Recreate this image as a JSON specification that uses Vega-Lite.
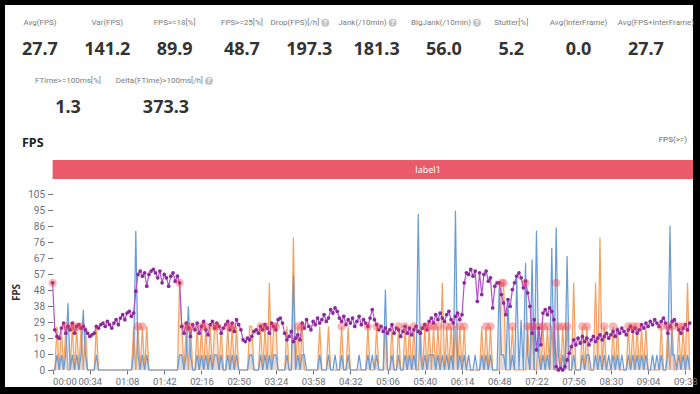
{
"$schema":"https://vega.github.io/schema/vega-lite/v6.json",
"background":"#000000",
"padding":{"left":5,"top":5,"right":7,"bottom":7},
"spacing":0,
"config":{"view":{"fill":"#ffffff","stroke":null},"font":"Noto Sans"},
"datasets":{
"stats":[
{"row":"r1","col":0,"label":"Avg(FPS)","value":"27.7","help":false},
{"row":"r1","col":1,"label":"Var(FPS)","value":"141.2","help":false},
{"row":"r1","col":2,"label":"FPS>=18[%]","value":"89.9","help":false},
{"row":"r1","col":3,"label":"FPS>=25[%]","value":"48.7","help":false},
{"row":"r1","col":4,"label":"Drop(FPS)[/h]","value":"197.3","help":true},
{"row":"r1","col":5,"label":"Jank(/10min)","value":"181.3","help":true},
{"row":"r1","col":6,"label":"BigJank(/10min)","value":"56.0","help":true},
{"row":"r1","col":7,"label":"Stutter[%]","value":"5.2","help":false},
{"row":"r1","col":8,"label":"Avg(InterFrame)","value":"0.0","help":false},
{"row":"r1","col":9,"label":"Avg(FPS+InterFrame)","value":"27.7","help":false},
{"row":"r2","col":0,"label":"FTime>=100ms[%]","value":"1.3","help":false},
{"row":"r2","col":1,"label":"Delta(FTime)>100ms[/h]","value":"373.3","help":true}
],
"header":[{"row":"hdr","item":"title","text":"FPS"},{"row":"hdr","item":"filter","text":"FPS(>=)"}],
"labels":[{"label":"label1","start":0,"end":686}],
"jank":[
{"t":0,"v":52},{"t":12,"v":26},{"t":18,"v":26},{"t":22,"v":26},{"t":26,"v":26},{"t":78,"v":26},{"t":82,"v":26},{"t":116,"v":52},{"t":122,"v":26},{"t":126,"v":26},{"t":136,"v":26},{"t":140,"v":26},{"t":148,"v":26},{"t":150,"v":26},{"t":160,"v":26},{"t":164,"v":26},{"t":190,"v":26},{"t":194,"v":26},{"t":202,"v":26},{"t":204,"v":26},{"t":224,"v":26},{"t":228,"v":26},{"t":264,"v":26},{"t":288,"v":26},{"t":296,"v":26},{"t":316,"v":26},{"t":322,"v":26},{"t":330,"v":26},{"t":340,"v":26},{"t":344,"v":26},{"t":348,"v":26},{"t":352,"v":26},{"t":360,"v":26},{"t":364,"v":26},{"t":372,"v":26},{"t":376,"v":26},{"t":396,"v":26},{"t":400,"v":26},{"t":410,"v":52},{"t":412,"v":52},{"t":420,"v":26},{"t":432,"v":52},{"t":434,"v":26},{"t":438,"v":26},{"t":444,"v":26},{"t":448,"v":26},{"t":452,"v":26},{"t":460,"v":52},{"t":462,"v":26},{"t":466,"v":26},{"t":470,"v":26},{"t":484,"v":26},{"t":488,"v":26},{"t":504,"v":26},{"t":512,"v":26},{"t":526,"v":26},{"t":530,"v":26},{"t":534,"v":26},{"t":556,"v":26},{"t":562,"v":26},{"t":566,"v":26},{"t":572,"v":26},{"t":576,"v":26}
],
"series":[
{"t":0,"f":52,"o":0,"b":0},{"t":2,"f":24,"o":0,"b":0},{"t":4,"f":20,"o":26,"b":9},{"t":6,"f":19,"o":0,"b":0},{"t":8,"f":25,"o":26,"b":9},{"t":10,"f":28,"o":0,"b":0},{"t":12,"f":22,"o":26,"b":9},{"t":14,"f":26,"o":0,"b":40},{"t":16,"f":24,"o":0,"b":0},{"t":18,"f":28,"o":26,"b":9},
{"t":20,"f":22,"o":0,"b":0},{"t":22,"f":26,"o":26,"b":9},{"t":24,"f":27,"o":0,"b":0},{"t":26,"f":25,"o":26,"b":9},{"t":28,"f":26,"o":0,"b":36},{"t":30,"f":24,"o":26,"b":9},{"t":32,"f":22,"o":0,"b":0},{"t":34,"f":20,"o":0,"b":0},{"t":36,"f":21,"o":0,"b":0},{"t":38,"f":22,"o":0,"b":0},
{"t":40,"f":26,"o":26,"b":9},{"t":42,"f":25,"o":0,"b":0},{"t":44,"f":27,"o":0,"b":0},{"t":46,"f":28,"o":0,"b":0},{"t":48,"f":26,"o":0,"b":0},{"t":50,"f":29,"o":0,"b":0},{"t":52,"f":27,"o":0,"b":0},{"t":54,"f":25,"o":0,"b":0},{"t":56,"f":28,"o":0,"b":0},{"t":58,"f":30,"o":0,"b":0},
{"t":60,"f":27,"o":0,"b":0},{"t":62,"f":31,"o":0,"b":0},{"t":64,"f":33,"o":0,"b":0},{"t":66,"f":30,"o":0,"b":0},{"t":68,"f":34,"o":0,"b":0},{"t":70,"f":35,"o":0,"b":0},{"t":72,"f":32,"o":0,"b":0},{"t":74,"f":34,"o":26,"b":9},{"t":76,"f":47,"o":0,"b":83},{"t":78,"f":57,"o":26,"b":9},
{"t":80,"f":59,"o":0,"b":0},{"t":82,"f":56,"o":26,"b":9},{"t":84,"f":58,"o":0,"b":0},{"t":86,"f":50,"o":26,"b":9},{"t":88,"f":57,"o":0,"b":0},{"t":90,"f":59,"o":0,"b":0},{"t":92,"f":60,"o":0,"b":0},{"t":94,"f":58,"o":0,"b":0},{"t":96,"f":55,"o":0,"b":0},{"t":98,"f":59,"o":0,"b":0},
{"t":100,"f":52,"o":0,"b":0},{"t":102,"f":57,"o":0,"b":0},{"t":104,"f":55,"o":0,"b":0},{"t":106,"f":50,"o":0,"b":0},{"t":108,"f":56,"o":0,"b":0},{"t":110,"f":58,"o":0,"b":0},{"t":112,"f":53,"o":0,"b":0},{"t":114,"f":56,"o":0,"b":0},{"t":116,"f":52,"o":52,"b":9},{"t":118,"f":26,"o":26,"b":9},
{"t":120,"f":22,"o":0,"b":0},{"t":122,"f":28,"o":26,"b":9},{"t":124,"f":25,"o":0,"b":38},{"t":126,"f":20,"o":26,"b":9},{"t":128,"f":27,"o":0,"b":0},{"t":130,"f":24,"o":0,"b":0},{"t":132,"f":28,"o":26,"b":9},{"t":134,"f":22,"o":0,"b":0},{"t":136,"f":26,"o":26,"b":9},{"t":138,"f":29,"o":0,"b":0},
{"t":140,"f":24,"o":26,"b":9},{"t":142,"f":21,"o":0,"b":0},{"t":144,"f":27,"o":26,"b":9},{"t":146,"f":29,"o":0,"b":0},{"t":148,"f":25,"o":26,"b":9},{"t":150,"f":28,"o":26,"b":9},{"t":152,"f":26,"o":0,"b":0},{"t":154,"f":22,"o":26,"b":9},{"t":156,"f":25,"o":0,"b":0},{"t":158,"f":27,"o":0,"b":0},
{"t":160,"f":29,"o":26,"b":9},{"t":162,"f":24,"o":0,"b":0},{"t":164,"f":28,"o":26,"b":9},{"t":166,"f":23,"o":0,"b":0},{"t":168,"f":30,"o":26,"b":9},{"t":170,"f":27,"o":0,"b":0},{"t":172,"f":24,"o":0,"b":0},{"t":174,"f":18,"o":0,"b":0},{"t":176,"f":17,"o":0,"b":0},{"t":178,"f":19,"o":0,"b":0},
{"t":180,"f":18,"o":26,"b":9},{"t":182,"f":20,"o":26,"b":9},{"t":184,"f":23,"o":0,"b":0},{"t":186,"f":24,"o":0,"b":0},{"t":188,"f":22,"o":0,"b":0},{"t":190,"f":26,"o":26,"b":9},{"t":192,"f":24,"o":0,"b":0},{"t":194,"f":27,"o":26,"b":9},{"t":196,"f":25,"o":0,"b":0},{"t":198,"f":22,"o":52,"b":9},
{"t":200,"f":28,"o":0,"b":0},{"t":202,"f":26,"o":26,"b":9},{"t":204,"f":24,"o":26,"b":9},{"t":206,"f":30,"o":0,"b":0},{"t":208,"f":31,"o":0,"b":0},{"t":210,"f":28,"o":0,"b":0},{"t":212,"f":22,"o":0,"b":0},{"t":214,"f":18,"o":26,"b":9},{"t":216,"f":20,"o":0,"b":0},{"t":218,"f":23,"o":0,"b":0},
{"t":220,"f":17,"o":79,"b":56},{"t":222,"f":19,"o":0,"b":0},{"t":224,"f":21,"o":26,"b":9},{"t":226,"f":18,"o":0,"b":0},{"t":228,"f":28,"o":26,"b":9},{"t":230,"f":25,"o":0,"b":9},{"t":232,"f":30,"o":0,"b":0},{"t":234,"f":26,"o":0,"b":0},{"t":236,"f":24,"o":0,"b":0},{"t":238,"f":29,"o":0,"b":0},
{"t":240,"f":27,"o":0,"b":0},{"t":242,"f":31,"o":0,"b":0},{"t":244,"f":28,"o":26,"b":9},{"t":246,"f":30,"o":0,"b":0},{"t":248,"f":33,"o":0,"b":0},{"t":250,"f":29,"o":0,"b":0},{"t":252,"f":31,"o":26,"b":9},{"t":254,"f":36,"o":0,"b":0},{"t":256,"f":34,"o":0,"b":0},{"t":258,"f":37,"o":0,"b":9},
{"t":260,"f":35,"o":0,"b":0},{"t":262,"f":31,"o":0,"b":0},{"t":264,"f":29,"o":26,"b":9},{"t":266,"f":32,"o":0,"b":0},{"t":268,"f":27,"o":0,"b":0},{"t":270,"f":30,"o":26,"b":9},{"t":272,"f":28,"o":0,"b":0},{"t":274,"f":31,"o":0,"b":0},{"t":276,"f":26,"o":0,"b":0},{"t":278,"f":29,"o":0,"b":0},
{"t":280,"f":32,"o":0,"b":9},{"t":282,"f":27,"o":0,"b":0},{"t":284,"f":30,"o":0,"b":0},{"t":286,"f":28,"o":0,"b":0},{"t":288,"f":26,"o":26,"b":9},{"t":290,"f":31,"o":0,"b":0},{"t":292,"f":36,"o":0,"b":9},{"t":294,"f":30,"o":0,"b":0},{"t":296,"f":27,"o":26,"b":9},{"t":298,"f":24,"o":0,"b":0},
{"t":300,"f":26,"o":0,"b":0},{"t":302,"f":23,"o":0,"b":0},{"t":304,"f":25,"o":26,"b":48},{"t":306,"f":22,"o":0,"b":0},{"t":308,"f":24,"o":0,"b":0},{"t":310,"f":27,"o":26,"b":9},{"t":312,"f":22,"o":0,"b":0},{"t":314,"f":25,"o":0,"b":0},{"t":316,"f":24,"o":26,"b":9},{"t":318,"f":20,"o":0,"b":0},
{"t":320,"f":23,"o":0,"b":0},{"t":322,"f":26,"o":26,"b":9},{"t":324,"f":22,"o":0,"b":0},{"t":326,"f":25,"o":26,"b":9},{"t":328,"f":21,"o":0,"b":0},{"t":330,"f":24,"o":26,"b":9},{"t":332,"f":26,"o":0,"b":0},{"t":334,"f":23,"o":0,"b":93},{"t":336,"f":22,"o":26,"b":9},{"t":338,"f":25,"o":0,"b":0},
{"t":340,"f":27,"o":26,"b":9},{"t":342,"f":24,"o":0,"b":0},{"t":344,"f":29,"o":26,"b":9},{"t":346,"f":31,"o":0,"b":9},{"t":348,"f":28,"o":26,"b":9},{"t":350,"f":33,"o":0,"b":0},{"t":352,"f":30,"o":26,"b":9},{"t":354,"f":34,"o":0,"b":0},{"t":356,"f":31,"o":52,"b":9},{"t":358,"f":29,"o":0,"b":0},
{"t":360,"f":33,"o":26,"b":9},{"t":362,"f":35,"o":0,"b":0},{"t":364,"f":30,"o":26,"b":9},{"t":366,"f":28,"o":0,"b":0},{"t":368,"f":32,"o":26,"b":95},{"t":370,"f":34,"o":0,"b":0},{"t":372,"f":30,"o":26,"b":9},{"t":374,"f":33,"o":0,"b":0},{"t":376,"f":52,"o":26,"b":9},{"t":378,"f":58,"o":0,"b":0},
{"t":380,"f":57,"o":0,"b":9},{"t":382,"f":60,"o":0,"b":0},{"t":384,"f":56,"o":0,"b":0},{"t":386,"f":59,"o":0,"b":9},{"t":388,"f":41,"o":0,"b":0},{"t":390,"f":58,"o":0,"b":0},{"t":392,"f":45,"o":26,"b":9},{"t":394,"f":57,"o":0,"b":0},{"t":396,"f":59,"o":26,"b":9},{"t":398,"f":53,"o":0,"b":0},
{"t":400,"f":55,"o":26,"b":9},{"t":402,"f":37,"o":0,"b":0},{"t":404,"f":50,"o":0,"b":0},{"t":406,"f":52,"o":0,"b":0},{"t":408,"f":52,"o":0,"b":50},{"t":410,"f":45,"o":52,"b":9},{"t":412,"f":40,"o":52,"b":9},{"t":414,"f":33,"o":0,"b":0},{"t":416,"f":42,"o":0,"b":42},{"t":418,"f":38,"o":0,"b":0},
{"t":420,"f":48,"o":26,"b":9},{"t":422,"f":52,"o":0,"b":0},{"t":424,"f":56,"o":0,"b":55},{"t":426,"f":58,"o":0,"b":0},{"t":428,"f":55,"o":0,"b":30},{"t":430,"f":49,"o":0,"b":0},{"t":432,"f":53,"o":0,"b":64},{"t":434,"f":46,"o":26,"b":9},{"t":436,"f":38,"o":0,"b":0},{"t":438,"f":22,"o":26,"b":66},
{"t":440,"f":30,"o":0,"b":0},{"t":442,"f":12,"o":0,"b":83},{"t":444,"f":25,"o":26,"b":9},{"t":446,"f":15,"o":0,"b":0},{"t":448,"f":34,"o":26,"b":9},{"t":450,"f":36,"o":0,"b":0},{"t":452,"f":33,"o":26,"b":9},{"t":454,"f":37,"o":0,"b":0},{"t":456,"f":35,"o":26,"b":73},{"t":458,"f":30,"o":0,"b":0},
{"t":460,"f":2,"o":0,"b":85},{"t":462,"f":0,"o":26,"b":9},{"t":464,"f":1,"o":0,"b":0},{"t":466,"f":0,"o":26,"b":9},{"t":468,"f":2,"o":0,"b":0},{"t":470,"f":6,"o":26,"b":68},{"t":472,"f":10,"o":0,"b":0},{"t":474,"f":14,"o":0,"b":0},{"t":476,"f":18,"o":52,"b":9},{"t":478,"f":15,"o":0,"b":0},
{"t":480,"f":19,"o":0,"b":0},{"t":482,"f":16,"o":0,"b":0},{"t":484,"f":20,"o":26,"b":9},{"t":486,"f":17,"o":0,"b":0},{"t":488,"f":19,"o":26,"b":9},{"t":490,"f":15,"o":0,"b":9},{"t":492,"f":18,"o":0,"b":0},{"t":494,"f":20,"o":0,"b":0},{"t":496,"f":17,"o":52,"b":9},{"t":498,"f":19,"o":0,"b":0},
{"t":500,"f":21,"o":79,"b":9},{"t":502,"f":18,"o":0,"b":0},{"t":504,"f":20,"o":26,"b":9},{"t":506,"f":22,"o":0,"b":0},{"t":508,"f":19,"o":0,"b":9},{"t":510,"f":21,"o":0,"b":0},{"t":512,"f":23,"o":26,"b":9},{"t":514,"f":20,"o":0,"b":0},{"t":516,"f":24,"o":26,"b":9},{"t":518,"f":22,"o":0,"b":0},
{"t":520,"f":25,"o":0,"b":9},{"t":522,"f":23,"o":0,"b":0},{"t":524,"f":21,"o":0,"b":0},{"t":526,"f":24,"o":26,"b":9},{"t":528,"f":26,"o":0,"b":0},{"t":530,"f":23,"o":26,"b":9},{"t":532,"f":25,"o":0,"b":0},{"t":534,"f":22,"o":26,"b":9},{"t":536,"f":24,"o":0,"b":0},{"t":538,"f":27,"o":26,"b":9},
{"t":540,"f":25,"o":0,"b":0},{"t":542,"f":28,"o":26,"b":9},{"t":544,"f":26,"o":0,"b":0},{"t":546,"f":29,"o":0,"b":0},{"t":548,"f":27,"o":0,"b":9},{"t":550,"f":30,"o":0,"b":0},{"t":552,"f":28,"o":0,"b":9},{"t":554,"f":26,"o":0,"b":0},{"t":556,"f":29,"o":26,"b":9},{"t":558,"f":31,"o":0,"b":0},
{"t":560,"f":28,"o":0,"b":0},{"t":562,"f":22,"o":26,"b":9},{"t":564,"f":26,"o":0,"b":86},{"t":566,"f":29,"o":26,"b":9},{"t":568,"f":30,"o":0,"b":9},{"t":570,"f":27,"o":0,"b":0},{"t":572,"f":24,"o":26,"b":9},{"t":574,"f":22,"o":0,"b":0},{"t":576,"f":25,"o":26,"b":9},{"t":578,"f":27,"o":0,"b":0},
{"t":580,"f":24,"o":52,"b":9},{"t":582,"f":28,"o":0,"b":0}
]
},
"vconcat":[
{
"width":688,"height":155,
"layer":[
{"data":{"name":"stats"},"transform":[{"filter":"datum.row==='r1' && !datum.help && datum.col<9"}],
 "mark":{"type":"text","font":"Roboto","fontSize":8,"color":"#7a7a7a","baseline":"middle"},
 "encoding":{"x":{"field":"col","type":"ordinal","scale":{"type":"point","domain":[0,1,2,3,4,5,6,7,8,9],"padding":0.609,"align":0.426},"axis":null},
  "y":{"field":"row","type":"nominal","scale":{"type":"point","domain":["r1","r2","hdr"],"padding":0.329,"align":0.46},"axis":null},
  "text":{"field":"label"}}},
{"data":{"name":"stats"},"transform":[{"filter":"datum.row==='r1' && datum.col===9"}],
 "mark":{"type":"text","font":"Roboto","fontSize":8,"color":"#7a7a7a","baseline":"middle","dx":10},
 "encoding":{"x":{"field":"col","type":"ordinal","scale":{"type":"point","domain":[0,1,2,3,4,5,6,7,8,9],"padding":0.609,"align":0.426},"axis":null},
  "y":{"field":"row","type":"nominal","scale":{"type":"point","domain":["r1","r2","hdr"],"padding":0.329,"align":0.46},"axis":null},
  "text":{"field":"label"}}},
{"data":{"name":"stats"},"transform":[{"filter":"datum.row==='r1' && datum.help && datum.col<6"}],
 "mark":{"type":"text","font":"Roboto","fontSize":8,"color":"#7a7a7a","baseline":"middle","align":"right","dx":10},
 "encoding":{"x":{"field":"col","type":"ordinal","scale":{"type":"point","domain":[0,1,2,3,4,5,6,7,8,9],"padding":0.609,"align":0.426},"axis":null},
  "y":{"field":"row","type":"nominal","scale":{"type":"point","domain":["r1","r2","hdr"],"padding":0.329,"align":0.46},"axis":null},
  "text":{"field":"label"}}},
{"data":{"name":"stats"},"transform":[{"filter":"datum.row==='r1' && datum.help && datum.col<6"}],
 "mark":{"type":"circle","size":64,"color":"#c4c4c4","opacity":1,"xOffset":16},
 "encoding":{"x":{"field":"col","type":"ordinal","scale":{"type":"point","domain":[0,1,2,3,4,5,6,7,8,9],"padding":0.609,"align":0.426},"axis":null},
  "y":{"field":"row","type":"nominal","scale":{"type":"point","domain":["r1","r2","hdr"],"padding":0.329,"align":0.46},"axis":null}}},
{"data":{"name":"stats"},"transform":[{"filter":"datum.row==='r1' && datum.help && datum.col<6"}],
 "mark":{"type":"text","fontSize":7,"fontWeight":"bold","color":"#ffffff","baseline":"middle","dx":16},
 "encoding":{"x":{"field":"col","type":"ordinal","scale":{"type":"point","domain":[0,1,2,3,4,5,6,7,8,9],"padding":0.609,"align":0.426},"axis":null},
  "y":{"field":"row","type":"nominal","scale":{"type":"point","domain":["r1","r2","hdr"],"padding":0.329,"align":0.46},"axis":null},
  "text":{"value":"?"}}},
{"data":{"name":"stats"},"transform":[{"filter":"datum.row==='r1' && datum.help && datum.col===6"}],
 "mark":{"type":"text","font":"Roboto","fontSize":8,"color":"#7a7a7a","baseline":"middle","align":"right","dx":27},
 "encoding":{"x":{"field":"col","type":"ordinal","scale":{"type":"point","domain":[0,1,2,3,4,5,6,7,8,9],"padding":0.609,"align":0.426},"axis":null},
  "y":{"field":"row","type":"nominal","scale":{"type":"point","domain":["r1","r2","hdr"],"padding":0.329,"align":0.46},"axis":null},
  "text":{"field":"label"}}},
{"data":{"name":"stats"},"transform":[{"filter":"datum.row==='r1' && datum.help && datum.col===6"}],
 "mark":{"type":"circle","size":64,"color":"#c4c4c4","opacity":1,"xOffset":33},
 "encoding":{"x":{"field":"col","type":"ordinal","scale":{"type":"point","domain":[0,1,2,3,4,5,6,7,8,9],"padding":0.609,"align":0.426},"axis":null},
  "y":{"field":"row","type":"nominal","scale":{"type":"point","domain":["r1","r2","hdr"],"padding":0.329,"align":0.46},"axis":null}}},
{"data":{"name":"stats"},"transform":[{"filter":"datum.row==='r1' && datum.help && datum.col===6"}],
 "mark":{"type":"text","fontSize":7,"fontWeight":"bold","color":"#ffffff","baseline":"middle","dx":33},
 "encoding":{"x":{"field":"col","type":"ordinal","scale":{"type":"point","domain":[0,1,2,3,4,5,6,7,8,9],"padding":0.609,"align":0.426},"axis":null},
  "y":{"field":"row","type":"nominal","scale":{"type":"point","domain":["r1","r2","hdr"],"padding":0.329,"align":0.46},"axis":null},
  "text":{"value":"?"}}},
{"data":{"name":"stats"},"transform":[{"filter":"datum.row==='r1'"}],
 "mark":{"type":"text","fontSize":18,"fontWeight":"bold","color":"#333333","baseline":"middle","dy":27},
 "encoding":{"x":{"field":"col","type":"ordinal","scale":{"type":"point","domain":[0,1,2,3,4,5,6,7,8,9],"padding":0.609,"align":0.426},"axis":null},
  "y":{"field":"row","type":"nominal","scale":{"type":"point","domain":["r1","r2","hdr"],"padding":0.329,"align":0.46},"axis":null},
  "text":{"field":"value"}}},
{"data":{"name":"stats"},"transform":[{"filter":"datum.row==='r2' && !datum.help"}],
 "mark":{"type":"text","font":"Roboto","fontSize":8,"color":"#7a7a7a","baseline":"middle"},
 "encoding":{"x":{"field":"col","type":"ordinal","scale":{"type":"point","domain":[0,1,2,3,4,5,6],"padding":0.51,"align":0.63},"axis":null},
  "y":{"field":"row","type":"nominal","scale":{"type":"point","domain":["r1","r2","hdr"],"padding":0.329,"align":0.46},"axis":null},
  "text":{"field":"label"}}},
{"data":{"name":"stats"},"transform":[{"filter":"datum.row==='r2' && datum.help"}],
 "mark":{"type":"text","font":"Roboto","fontSize":8,"color":"#7a7a7a","baseline":"middle","align":"right","dx":37},
 "encoding":{"x":{"field":"col","type":"ordinal","scale":{"type":"point","domain":[0,1,2,3,4,5,6],"padding":0.51,"align":0.63},"axis":null},
  "y":{"field":"row","type":"nominal","scale":{"type":"point","domain":["r1","r2","hdr"],"padding":0.329,"align":0.46},"axis":null},
  "text":{"field":"label"}}},
{"data":{"name":"stats"},"transform":[{"filter":"datum.row==='r2' && datum.help"}],
 "mark":{"type":"circle","size":64,"color":"#c4c4c4","opacity":1,"xOffset":43},
 "encoding":{"x":{"field":"col","type":"ordinal","scale":{"type":"point","domain":[0,1,2,3,4,5,6],"padding":0.51,"align":0.63},"axis":null},
  "y":{"field":"row","type":"nominal","scale":{"type":"point","domain":["r1","r2","hdr"],"padding":0.329,"align":0.46},"axis":null}}},
{"data":{"name":"stats"},"transform":[{"filter":"datum.row==='r2' && datum.help"}],
 "mark":{"type":"text","fontSize":7,"fontWeight":"bold","color":"#ffffff","baseline":"middle","dx":43},
 "encoding":{"x":{"field":"col","type":"ordinal","scale":{"type":"point","domain":[0,1,2,3,4,5,6],"padding":0.51,"align":0.63},"axis":null},
  "y":{"field":"row","type":"nominal","scale":{"type":"point","domain":["r1","r2","hdr"],"padding":0.329,"align":0.46},"axis":null},
  "text":{"value":"?"}}},
{"data":{"name":"stats"},"transform":[{"filter":"datum.row==='r2'"}],
 "mark":{"type":"text","fontSize":18,"fontWeight":"bold","color":"#333333","baseline":"middle","dy":27},
 "encoding":{"x":{"field":"col","type":"ordinal","scale":{"type":"point","domain":[0,1,2,3,4,5,6],"padding":0.51,"align":0.63},"axis":null},
  "y":{"field":"row","type":"nominal","scale":{"type":"point","domain":["r1","r2","hdr"],"padding":0.329,"align":0.46},"axis":null},
  "text":{"field":"value"}}},
{"data":{"name":"header"},"transform":[{"filter":"datum.item==='title'"}],
 "mark":{"type":"text","fontSize":12.5,"fontWeight":"bold","color":"#222222","baseline":"middle","align":"left","dx":17,"dy":3.5},
 "encoding":{"x":{"field":"item","type":"nominal","scale":{"type":"point","domain":["title","filter"],"padding":0},"axis":null},
  "y":{"field":"row","type":"nominal","scale":{"type":"point","domain":["r1","r2","hdr"],"padding":0.329,"align":0.46},"axis":null},
  "text":{"field":"text"}}},
{"data":{"name":"header"},"transform":[{"filter":"datum.item==='filter'"}],
 "mark":{"type":"text","font":"Roboto","fontSize":8,"color":"#666666","baseline":"middle","align":"right","dx":-6,"dy":0.5},
 "encoding":{"x":{"field":"item","type":"nominal","scale":{"type":"point","domain":["title","filter"],"padding":0},"axis":null},
  "y":{"field":"row","type":"nominal","scale":{"type":"point","domain":["r1","r2","hdr"],"padding":0.329,"align":0.46},"axis":null},
  "text":{"field":"text"}}}
],
"resolve":{"scale":{"x":"independent"}}
},
{
"width":688,"height":19,
"data":{"name":"labels"},
"transform":[{"calculate":"(datum.start+datum.end)/2","as":"mid"}],
"layer":[
{"mark":{"type":"rect","color":"#eb5a6b","clip":true},
 "encoding":{"x":{"field":"start","type":"quantitative","scale":{"domain":[-43.5,585],"nice":false,"zero":false},"axis":null},"x2":{"field":"end"}}},
{"mark":{"type":"text","color":"#ffffff","fontSize":9,"baseline":"middle"},
 "encoding":{"x":{"field":"mid","type":"quantitative","scale":{"domain":[-43.5,585],"nice":false,"zero":false},"axis":null},"text":{"field":"label"}}}
]
},
{
"width":688,"height":208,
"encoding":{"x":{"field":"t","type":"quantitative","scale":{"domain":[-43.5,585],"nice":false,"zero":false},
 "axis":{"title":null,"offset":-17,"values":[0,34,68,102,136,170,204,238,272,306,340,374,408,442,476,510,544,578],"tickCount":20,
  "labelExpr":"utcFormat(datum.value*1000,'%M:%S')","labelFont":"Roboto","labelFontSize":9.5,"labelColor":"#6e7079","tickColor":"#6e7079","tickSize":4,"labelPadding":2,
  "domain":false,"grid":false,"labelOverlap":false,"labelFlush":false,
  "labelAlign":{"condition":{"test":"datum.value===0","value":"left"},"value":"center"},
  "labelDx":{"condition":{"test":"datum.value===0","value":-3},"value":0}}}},
"layer":[
{"data":{"name":"series"},"mark":{"type":"area","color":"#f6a25e","opacity":0.25},
 "encoding":{"y":{"field":"o","type":"quantitative","title":"FPS","scale":{"domain":[-10.14,113.95],"nice":false,"zero":false},
  "axis":{"title":"FPS","offset":-47.6,"values":[0,9.545,19.091,28.636,38.182,47.727,57.273,66.818,76.364,85.909,95.455,105],"tickCount":14,"format":".0f",
   "labelFont":"Roboto","labelFontSize":10,"labelColor":"#6e7079","tickColor":"#6e7079","tickSize":5,"labelPadding":3,"domain":false,"grid":false,"labelOverlap":false,
   "titleFontSize":10,"titleFontWeight":"bold","titleColor":"#333333","titlePadding":6,"titleY":113}},
  "y2":{"datum":0}}},
{"data":{"name":"series"},"mark":{"type":"line","color":"#f4a060","strokeWidth":1.2},
 "encoding":{"y":{"field":"o","type":"quantitative","title":"FPS"}}},
{"data":{"name":"series"},"mark":{"type":"area","color":"#6d9bd6","opacity":0.2},
 "encoding":{"y":{"field":"b","type":"quantitative","title":"FPS"},"y2":{"datum":0}}},
{"data":{"name":"series"},"mark":{"type":"line","color":"#6a9bd4","strokeWidth":1.2},
 "encoding":{"y":{"field":"b","type":"quantitative","title":"FPS"}}},
{"data":{"name":"series"},"mark":{"type":"line","color":"#b54fd0","strokeWidth":1.2,"point":{"filled":true,"size":14,"color":"#8a2a9b"}},
 "encoding":{"y":{"field":"f","type":"quantitative","title":"FPS"}}},
{"data":{"name":"jank"},"mark":{"type":"circle","size":70,"color":"#f03c46","opacity":0.38},
 "encoding":{"y":{"field":"v","type":"quantitative","title":"FPS"}}},
{"data":{"values":[{}]},"mark":{"type":"rule","color":"#6e7079","strokeWidth":1},
 "encoding":{"x":{"datum":0},"y":{"datum":0},"y2":{"datum":105}}},
{"data":{"values":[{}]},"mark":{"type":"rule","color":"#6e7079","strokeWidth":1},
 "encoding":{"x":{"datum":0},"x2":{"datum":585},"y":{"datum":0}}}
]
}
]
}
